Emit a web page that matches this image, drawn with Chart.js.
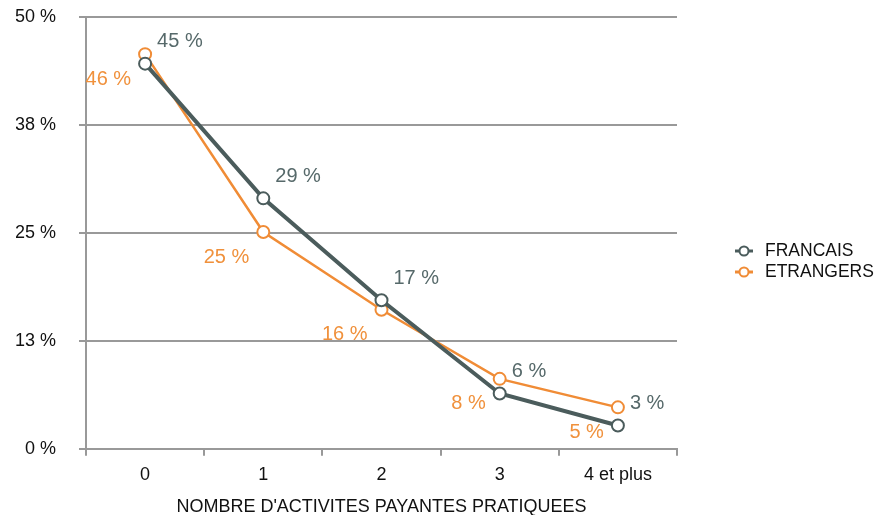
<!DOCTYPE html>
<html>
<head>
<meta charset="utf-8">
<script src="https://cdn.jsdelivr.net/npm/chart.js@4/dist/chart.umd.min.js"></script>
<style>
  html, body { margin: 0; padding: 0; background: #fff; }
</style>
</head>
<body>
<canvas id="mycanvas" width="876" height="515"></canvas>
<script>
var categories = ['0', '1', '2', '3', '4 et plus'];
var seriesNames = ['FRANCAIS', 'ETRANGERS'];
var francais = [44.6, 29.0, 17.2, 6.4, 2.7];
var etrangers = [45.7, 25.1, 16.1, 8.1, 4.8];
var yTicks = [0, 12.5, 25, 37.5, 50];

var grey = '#4b5c5c';
var orange = '#f08c36';
var font = '"Liberation Sans", Arial, Helvetica, sans-serif';

// value labels next to each point
var pointLabels = {
  id: 'pointLabels',
  afterDatasetsDraw: function(chart, args, opts) {
    var ctx = chart.ctx;
    ctx.save();
    ctx.font = '20px ' + font;
    ctx.textBaseline = 'middle';
    chart.data.datasets.forEach(function(ds, i) {
      var meta = chart.getDatasetMeta(i);
      var o = opts.place[i];
      ctx.fillStyle = o.color;
      ctx.textAlign = o.align;
      meta.data.forEach(function(pt, j) {
        ctx.fillText(Math.round(ds.data[j]) + ' %', pt.x + o.dx, pt.y + o.dy);
      });
    });
    ctx.restore();
  }
};

// legend on the right: small line with a circle, then the name
var sideLegend = {
  id: 'sideLegend',
  afterDraw: function(chart, args, opts) {
    var ctx = chart.ctx;
    ctx.save();
    ctx.font = '17.5px ' + font;
    ctx.textBaseline = 'middle';
    ctx.textAlign = 'left';
    chart.data.datasets.forEach(function(ds, i) {
      var y = opts.y + i * opts.step;
      ctx.strokeStyle = ds.borderColor;
      ctx.lineWidth = 3;
      ctx.beginPath();
      ctx.moveTo(opts.x, y);
      ctx.lineTo(opts.x + 18, y);
      ctx.stroke();
      ctx.beginPath();
      ctx.arc(opts.x + 9, y, 4.5, 0, Math.PI * 2);
      ctx.fillStyle = '#fff';
      ctx.fill();
      ctx.lineWidth = 2;
      ctx.stroke();
      ctx.fillStyle = '#111';
      ctx.fillText(ds.label, opts.x + 30, y);
    });
    ctx.restore();
  }
};

var chartdata = {
  labels: categories,
  datasets: [
    {
      label: seriesNames[0],
      data: francais,
      borderColor: grey,
      backgroundColor: '#fff',
      borderWidth: 4,
      pointRadius: 6,
      pointBorderWidth: 2,
      pointBackgroundColor: '#fff',
      pointBorderColor: grey,
      tension: 0
    },
    {
      label: seriesNames[1],
      data: etrangers,
      borderColor: orange,
      backgroundColor: '#fff',
      borderWidth: 2.5,
      pointRadius: 6,
      pointBorderWidth: 2,
      pointBackgroundColor: '#fff',
      pointBorderColor: orange,
      tension: 0
    }
  ]
};

var ctx = document.getElementById('mycanvas');

var lineGraph = new Chart(ctx, {
  type: 'line',
  data: chartdata,
  plugins: [pointLabels, sideLegend],
  options: {
    responsive: false,
    animation: false,
    devicePixelRatio: 1,
    layout: { autoPadding: false, padding: { top: 17, right: 199, left: 16, bottom: 0 } },
    plugins: {
      legend: { display: false },
      tooltip: { enabled: false },
      pointLabels: {
        place: [
          { color: '#56696a', align: 'left', dx: 12, dy: -22 },
          { color: '#f0913c', align: 'right', dx: -14, dy: 25 }
        ]
      },
      sideLegend: { x: 735, y: 251, step: 21 }
    },
    scales: {
      x: {
        offset: true,
        grid: {
          offset: true,
          drawOnChartArea: false,
          drawTicks: true,
          tickLength: 7,
          color: '#999',
          lineWidth: 2
        },
        border: { display: true, color: '#999', width: 2 },
        ticks: { color: '#111', font: { family: font, size: 18 }, padding: 8 },
        title: {
          display: true,
          text: "NOMBRE D'ACTIVITES PAYANTES PRATIQUEES",
          color: '#111',
          font: { family: font, size: 18 },
          padding: { top: 3, bottom: -3 }
        }
      },
      y: {
        min: 0,
        max: 50,
        afterBuildTicks: function(axis) {
          axis.ticks = yTicks.map(function(v) { return { value: v }; });
        },
        afterFit: function(axis) {
          axis.width = 70;
          axis.paddingTop = 0;
          axis.paddingBottom = 0;
        },
        grid: { color: '#999', lineWidth: 2, tickLength: 7 },
        border: { display: true, color: '#999', width: 2 },
        ticks: {
          color: '#111',
          font: { family: font, size: 18 },
          padding: 23,
          callback: function(v) { return Math.round(v) + ' %'; }
        }
      }
    }
  }
});
</script>
</body>
</html>
